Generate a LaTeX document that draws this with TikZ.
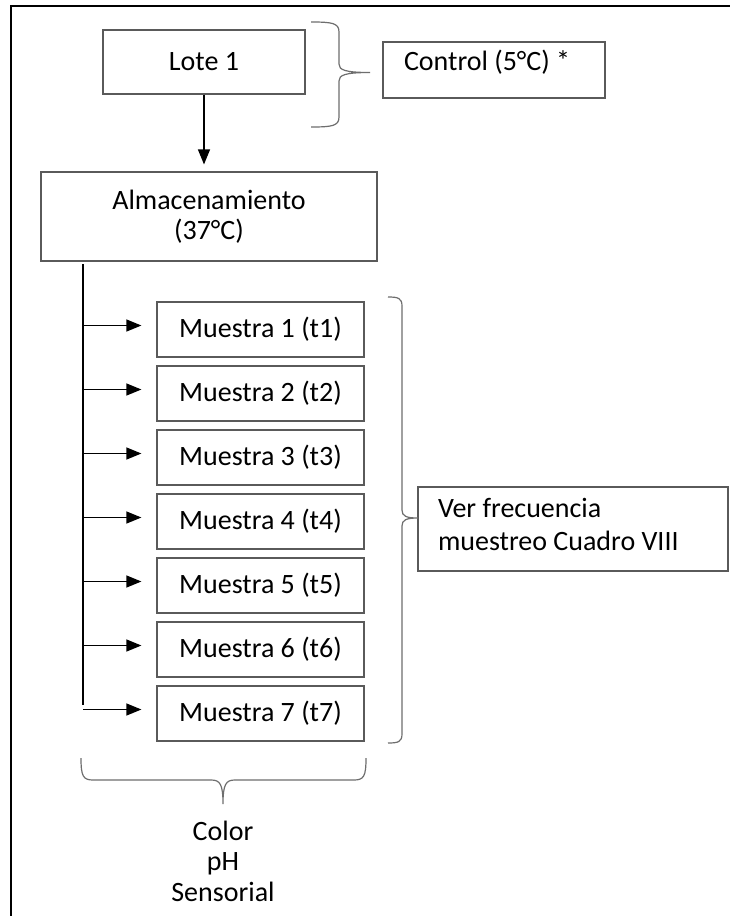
\documentclass[tikz,border=0pt]{standalone}
\usepackage{fontspec}
\setmainfont{Carlito}
\usetikzlibrary{arrows.meta}
\definecolor{boxgray}{HTML}{5A5A5A}
\definecolor{bracegray}{HTML}{6E6E6E}
\newcommand{\upby}[2]{\raisebox{#1}[\height][\depth]{#2}}
\begin{document}
\begin{tikzpicture}[x=1pt,y=-1pt,
  box/.style={draw=boxgray, line width=1.2pt, rectangle, inner sep=0pt, font=\fontsize{28}{30}\selectfont},
  arr/.style={draw=black, line width=1.2pt, -{Triangle[length=15pt,width=12pt]}},
  brc/.style={draw=bracegray, line width=1.2pt},
  spine/.style={draw=black, line width=1.2pt},
]
\fill[white] (0,0) rectangle (730,916);
\useasboundingbox (0,0) rectangle (730,916);
% frame
\draw[line width=2.4pt, line join=miter] (11,916) -- (11,6) -- (730,6);

% boxes
\node[box, minimum width=202pt, minimum height=64pt] (lote) at (204,62) {Lote 1};
\node[box, minimum width=222pt, minimum height=56pt, text width=180pt, align=flush left] (ctrl) at (494,70) {\upby{8pt}{Control (5°C) *}};
\node[box, minimum width=336pt, minimum height=89pt, align=flush center] (alm) at (209,216.5) {Almacenamiento\\(37°C)};
\foreach \i in {1,...,7}{
  \node[box, minimum width=207pt, minimum height=55pt] (m\i) at (260.5,{329.5+64*(\i-1)}) {Muestra \i\ (t\i)};
}
\node[box, minimum width=310pt, minimum height=84pt, text width=270pt, align=flush left, font=\fontsize{28}{33}\selectfont] (ver) at (573,529) {\upby{5pt}{Ver frecuencia}\\\upby{5pt}{muestreo Cuadro VIII}};
\node[inner sep=0pt, align=flush center, font=\fontsize{28}{30.5}\selectfont] (params) at (223,861) {Color\\pH\\Sensorial};

% connectors
\draw[arr, shorten >=7pt] (lote.south) -- (lote.south |- alm.north);
\coordinate (s0) at (83,264);
\coordinate (s1) at (83,705);
\draw[spine] (s0) -- (s1);
\foreach \i in {1,...,7}{
  \path ([yshift=4pt]m\i.west) coordinate (a\i);
  \draw[arr, shorten >=15pt] (a\i -| s0) -- (a\i);
}

% braces
\draw[brc] (311,22) .. controls (332,22) and (339,23) .. (339,32) -- (339,64)
  .. controls (339,70) and (345,72.5) .. (370,72.5)
  .. controls (345,72.5) and (339,75) .. (339,81) -- (339,117)
  .. controls (339,126) and (332,127) .. (311,127);
\draw[brc] (388,297) .. controls (398,297) and (402,298) .. (402,306) -- (402,510)
  .. controls (402,516) and (406,518) .. (418,518)
  .. controls (406,518) and (402,520) .. (402,526) -- (402,734)
  .. controls (402,742) and (398,743) .. (388,743);
\draw[brc] (81,758) .. controls (81,776) and (83,780) .. (93,780) -- (211,780)
  .. controls (220,780) and (223,784) .. (223,804)
  .. controls (223,784) and (226,780) .. (235,780) -- (354,780)
  .. controls (364,780) and (366,776) .. (366,758);
\end{tikzpicture}
\end{document}
